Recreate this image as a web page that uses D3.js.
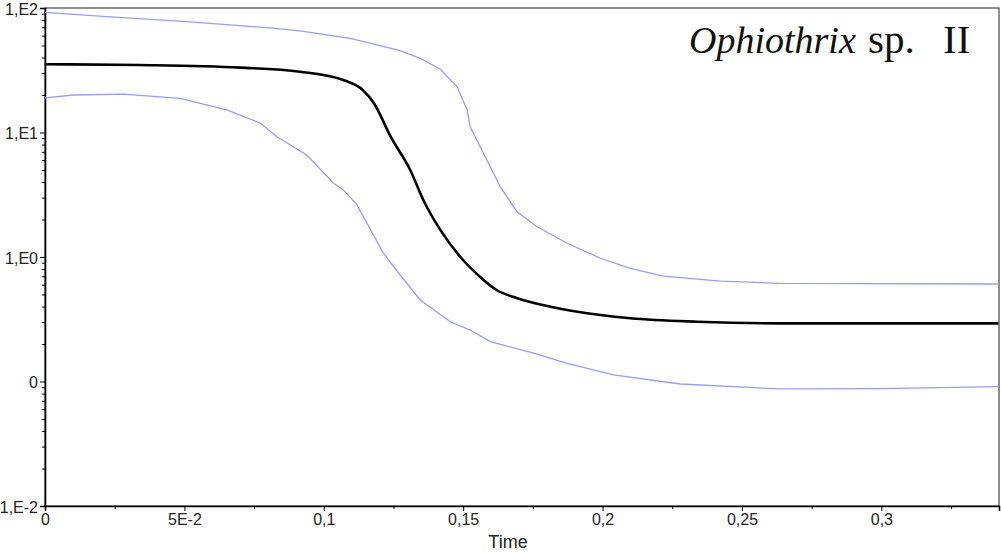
<!DOCTYPE html>
<html lang="en">
<head>
<meta charset="UTF-8">
<title>Ophiothrix sp. II</title>
<style>
  html, body { margin: 0; padding: 0; background: #fff; }
  svg { display: block; }
</style>
<script src="https://cdn.jsdelivr.net/npm/d3@7/dist/d3.min.js"></script>
</head>
<body>
<svg></svg>
<script>
// time values and median / upper / lower curves
const medT = [0, 0.034, 0.070, 0.0915, 0.107, 0.114, 0.118, 0.124, 0.131, 0.1357, 0.1418, 0.149, 0.156, 0.162, 0.1694, 0.1813, 0.1992, 0.210, 0.234, 0.2638, 0.342];
const medV = [35.3, 34.8, 33.2, 30.8, 26.4, 21.9, 17.2, 9.25, 5.0, 2.87, 1.65, 1.0, 0.695, 0.543, 0.466, 0.399, 0.342, 0.322, 0.302, 0.293, 0.293];

const upT = [0, 0.0221, 0.0509, 0.0796, 0.0915, 0.1095, 0.1274, 0.1346, 0.1418, 0.1478, 0.1514, 0.1525, 0.1585, 0.1633, 0.1693, 0.1765, 0.1873, 0.1992, 0.210, 0.2218, 0.2423, 0.2638, 0.342];
const upV = [92.4, 85.1, 77.6, 69.5, 65.4, 57.1, 45.4, 39.4, 32.2, 23.3, 15.2, 11.1, 6.02, 3.67, 2.31, 1.75, 1.29, 0.977, 0.811, 0.703, 0.641, 0.615, 0.607];

const loT = [0, 0.0102, 0.0281, 0.0485, 0.0652, 0.0772, 0.0832, 0.0939, 0.1035, 0.1071, 0.1119, 0.1214, 0.1274, 0.1346, 0.1454, 0.1525, 0.1597, 0.1753, 0.1873, 0.1992, 0.2039, 0.2279, 0.2638, 0.2997, 0.342];
const loV = [19.0, 20.0, 20.3, 18.8, 15.2, 11.9, 9.25, 6.59, 3.91, 3.45, 2.62, 1.07, 0.717, 0.452, 0.302, 0.259, 0.209, 0.169, 0.140, 0.120, 0.113, 0.0955, 0.0871, 0.0875, 0.0908];

const xTicks = [0, 0.05, 0.1, 0.15, 0.2, 0.25, 0.3];
const xTickLabels = ["0", "5E-2", "0,1", "0,15", "0,2", "0,25", "0,3"];
const xMinor = [0.025, 0.075, 0.125, 0.175, 0.225, 0.275, 0.325];
const yTicks = [100, 10, 1, 0.1, 0.01];
const yTickLabels = ["1,E2", "1,E1", "1,E0", "0", "1,E-2"];

const W = 1001, H = 552;
const m = {left: 45, top: 8, right: 2, bottom: 46};
const iw = W - m.left - m.right, ih = H - m.top - m.bottom;
const sans = '"Liberation Sans", Arial, sans-serif';

const svg = d3.select('svg').attr('width', W).attr('height', H);

const x = d3.scaleLinear().domain([0, 0.3422]).range([0, iw]);
const y = d3.scaleLog().domain([0.01, 100]).range([ih, 0]);

const g = svg.append('g').attr('transform', `translate(${m.left},${m.top})`);

// frame
g.append('rect').attr('width', iw).attr('height', ih)
  .attr('fill', 'none').attr('stroke', '#444').attr('stroke-width', 1.2);

const styleTicks = a => a.selectAll('.tick text')
  .attr('font-family', sans).attr('font-size', 16).attr('fill', '#222');

// y minor ticks
const yMinor = y.ticks().filter(v => !yTicks.some(t => Math.abs(t - v) / t < 1e-6));
g.append('g')
  .call(d3.axisLeft(y).tickValues(yMinor).tickSize(3).tickFormat(''))
  .call(a => a.select('.domain').remove());
// y major
g.append('g')
  .call(d3.axisLeft(y).tickValues(yTicks).tickSize(5).tickPadding(2)
    .tickFormat((d, i) => yTickLabels[i]))
  .call(a => a.select('.domain').attr('stroke-width', 1.6))
  .call(styleTicks)
  .call(a => a.selectAll('.tick text').attr('dy', '0.4em'));

// x minor
g.append('g').attr('transform', `translate(0,${ih})`)
  .call(d3.axisBottom(x).tickValues(xMinor).tickSize(3).tickFormat(''))
  .call(a => a.select('.domain').remove());
// x major
g.append('g').attr('transform', `translate(0,${ih})`)
  .call(d3.axisBottom(x).tickValues(xTicks).tickSize(5).tickPadding(3)
    .tickFormat((d, i) => xTickLabels[i]))
  .call(a => a.select('.domain').attr('stroke-width', 1.6))
  .call(styleTicks);

// curves
const mk = (T, V) => T.map((t, i) => [t, V[i]]);
const line = d3.line().x(d => x(d[0])).y(d => y(d[1]));

g.append('path').datum(mk(upT, upV))
  .attr('fill', 'none').attr('stroke', '#9a9aff').attr('stroke-width', 1.3)
  .attr('d', line);
g.append('path').datum(mk(loT, loV))
  .attr('fill', 'none').attr('stroke', '#9a9aff').attr('stroke-width', 1.3)
  .attr('d', line);
g.append('path').datum(mk(medT, medV))
  .attr('fill', 'none').attr('stroke', '#000').attr('stroke-width', 2.6)
  .attr('d', line.curve(d3.curveMonotoneX));

// axis title
svg.append('text')
  .attr('x', 508).attr('y', 548)
  .attr('text-anchor', 'middle')
  .attr('font-family', sans).attr('font-size', 18).attr('fill', '#222')
  .text('Time');

// species label
const title = svg.append('text')
  .attr('y', 53)
  .attr('font-family', '"Liberation Serif", "DejaVu Serif", serif')
  .attr('font-size', 38).attr('fill', '#111');
title.append('tspan').attr('x', 689).attr('font-style', 'italic').text('Ophiothrix');
title.append('tspan').attr('x', 868).attr('font-size', 41).text('sp.');
title.append('tspan').attr('x', 943).attr('font-size', 41).text('II');
</script>
</body>
</html>
